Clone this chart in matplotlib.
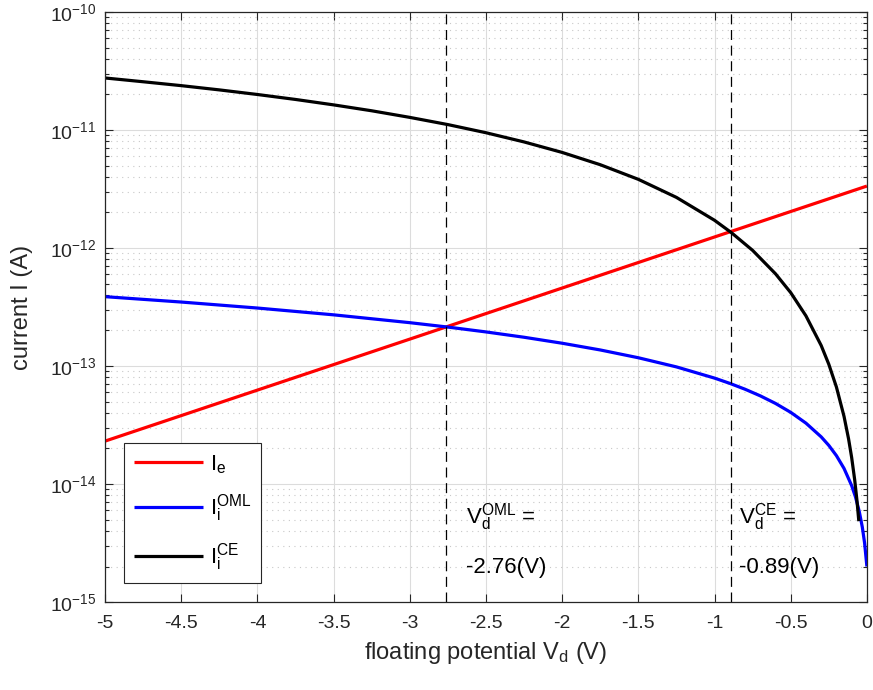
import numpy as np
import matplotlib
matplotlib.use('Agg')
import matplotlib.pyplot as plt
from matplotlib.ticker import LogLocator, NullFormatter

plt.rcParams['font.family'] = ['Liberation Sans', 'DejaVu Sans']
plt.rcParams['mathtext.fontset'] = 'custom'
plt.rcParams['mathtext.rm'] = 'Liberation Sans'
plt.rcParams['mathtext.it'] = 'Liberation Sans'
plt.rcParams['mathtext.sf'] = 'Liberation Sans'

# electron current (straight line on the log axis)
v_e = [-5, -4, -3, -2, -1, 0]
i_e = [2.31e-14, 6.25e-14, 1.69e-13, 4.58e-13, 1.24e-12, 3.35e-12]

# ion current, OML theory, in units of 1e-13 A
v_oml = [-5, -4.5, -4, -3.5, -3, -2.75, -2.5, -2.25, -2, -1.75, -1.5, -1.25,
         -1, -0.9, -0.8, -0.7, -0.6, -0.5, -0.4, -0.3, -0.25, -0.2, -0.15,
         -0.1, -0.075, -0.05, -0.03, -0.015, 0]
i_oml = [3.87, 3.485, 3.10, 2.715, 2.33, 2.138, 1.945, 1.753, 1.56, 1.368,
         1.175, 0.983, 0.79, 0.713, 0.636, 0.559, 0.482, 0.405, 0.328, 0.251,
         0.2125, 0.174, 0.1355, 0.097, 0.0778, 0.0585, 0.0431, 0.0316, 0.02]

# ion current, CE model (log10 of current in A)
v_ce = [-5, -4.75, -4.5, -4.25, -4, -3.75, -3.5, -3.25, -3, -2.75, -2.5,
        -2.25, -2, -1.75, -1.5, -1.25, -1, -0.89, -0.75, -0.6, -0.5, -0.4,
        -0.3, -0.25, -0.2, -0.15, -0.12, -0.1, -0.08, -0.065, -0.053]
log_i_ce = [-10.559, -10.591, -10.624, -10.660, -10.699, -10.741, -10.787,
            -10.837, -10.893, -10.954, -11.023, -11.101, -11.190, -11.294,
            -11.418, -11.571, -11.765, -11.869, -12.020, -12.218, -12.378,
            -12.575, -12.826, -12.985, -13.178, -13.427, -13.619, -13.775,
            -13.965, -14.142, -14.315]

# floating potentials
vd_oml = -2.76
vd_ce = -0.89

x_ticks = [-5, -4.5, -4, -3.5, -3, -2.5, -2, -1.5, -1, -0.5, 0]
x_labels = ['-5', '-4.5', '-4', '-3.5', '-3', '-2.5', '-2', '-1.5', '-1', '-0.5', '0']

fig = plt.figure(figsize=(8.73, 6.90), dpi=100)
ax = fig.add_axes([0.1203, 0.1275, 0.8727, 0.8551])

edge = '#262626'

ax.plot(v_e, i_e, color='#ff0000', lw=2.3, solid_capstyle='butt',
        label=r'$\mathregular{I_e}$')
ax.plot(v_oml, np.array(i_oml) * 1e-13, color='#0000ff', lw=2.3,
        solid_capstyle='butt', label=r'$\mathregular{I_i^{OML}}$')
ax.plot(v_ce, 10.0 ** np.array(log_i_ce), color='#000000', lw=2.3,
        solid_capstyle='butt', label=r'$\mathregular{I_i^{CE}}$')

for vd in (vd_oml, vd_ce):
    ax.axvline(vd, color='k', lw=0.9, dashes=(8, 4.5))

ax.set_yscale('log')
ax.set_xlim(-5, 0)
ax.set_ylim(1e-15, 1e-10)
ax.set_xticks(x_ticks)
ax.set_xticklabels(x_labels)
ax.yaxis.set_major_locator(LogLocator(base=10, numticks=10))
ax.yaxis.set_minor_locator(LogLocator(base=10, subs=np.arange(2, 10), numticks=10))
ax.yaxis.set_minor_formatter(NullFormatter())

ax.grid(True, which='major', color='#dcdcdc', lw=0.8)
ax.grid(True, which='minor', axis='y', color='#c8c8c8', lw=0.8, ls=(0, (1, 4)))
ax.set_axisbelow(True)

ax.tick_params(which='both', direction='in', top=True, right=True, colors=edge,
               labelsize=14)
ax.tick_params(which='major', length=6, width=0.8)
ax.tick_params(which='minor', length=3, width=0.8)
ax.tick_params(axis='x', pad=9)
ax.tick_params(axis='y', pad=6)
for s in ax.spines.values():
    s.set_color(edge)
    s.set_linewidth(0.9)

ax.set_xlabel(r'floating potential $\mathregular{V_d}$ (V)', fontsize=17, color=edge, labelpad=6)
ax.set_ylabel('current I (A)', fontsize=17, color=edge, labelpad=12)

ax.text(vd_oml + 0.13, 10**-14.28, r'$\mathregular{V_d^{OML}}$ =', fontsize=16, va='center')
ax.text(vd_oml + 0.13, 10**-14.71, '-2.76(V)', fontsize=16, va='center')
ax.text(vd_ce + 0.05, 10**-14.28, r'$\mathregular{V_d^{CE}}$ =', fontsize=16, va='center')
ax.text(vd_ce + 0.05, 10**-14.71, '-0.89(V)', fontsize=16, va='center')

leg = ax.legend(loc='lower left', bbox_to_anchor=(0.025, 0.0325), fontsize=16,
                handlelength=3.1, handletextpad=0.3, labelspacing=0.75,
                fancybox=False, framealpha=1, edgecolor=edge, borderpad=0.45,
                borderaxespad=0)
leg.get_frame().set_linewidth(0.8)

fig.savefig('out.png', dpi=100)
